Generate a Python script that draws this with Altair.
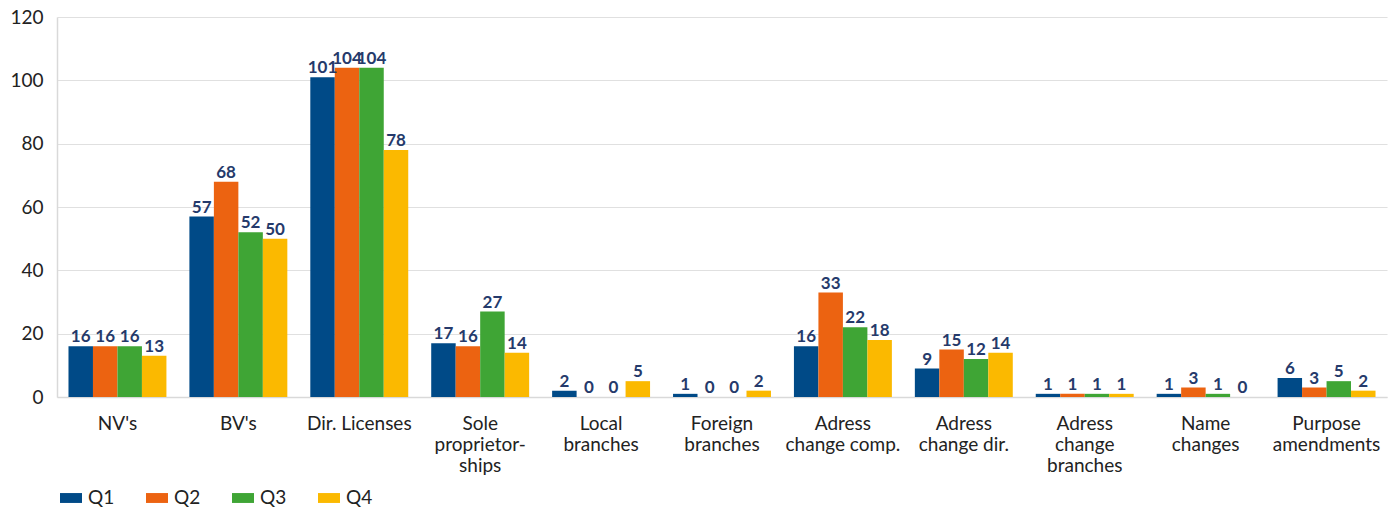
import altair as alt
import pandas as pd

categories = ["NV's", "BV's", "Dir. Licenses", "Sole\nproprietor-\nships", "Local\nbranches",
              "Foreign\nbranches", "Adress\nchange comp.", "Adress\nchange dir.",
              "Adress\nchange\nbranches", "Name\nchanges", "Purpose\namendments"]
quarters = ["Q1", "Q2", "Q3", "Q4"]
q1 = [16, 57, 101, 17, 2, 1, 16, 9, 1, 1, 6]
q2 = [16, 68, 104, 16, 0, 0, 33, 15, 1, 3, 3]
q3 = [16, 52, 104, 27, 0, 0, 22, 12, 1, 1, 5]
q4 = [13, 50, 78, 14, 5, 2, 18, 14, 1, 0, 2]
colors = ["#004a87", "#ec6311", "#3fa535", "#fbb900"]

rows = []
for qi, (q, vals) in enumerate(zip(quarters, [q1, q2, q3, q4])):
    for c, v in zip(categories, vals):
        rows.append({"Category": c, "Quarter": q, "Value": v})
df = pd.DataFrame(rows)

FONT = "Lato"

x = alt.X("Category:N", sort=categories, title=None,
          scale=alt.Scale(paddingInner=0.19, paddingOuter=0.095),
          axis=alt.Axis(labelAngle=0, labelExpr="split(datum.label, '\\n')",
                        labelFont=FONT, labelFontSize=19, labelColor="#222222",
                        labelPadding=17, labelBaseline="top", labelLineHeight=21,
                        ticks=False, domainColor="#d9d9d9", domainWidth=1.5,
                        labelLimit=200))
y = alt.Y("Value:Q", title=None,
          scale=alt.Scale(domain=[0, 120]),
          axis=alt.Axis(values=[0, 20, 40, 60, 80, 100, 120], labelFont=FONT,
                        labelFontSize=19, labelColor="#222222", labelPadding=14,
                        ticks=False, domainColor="#d9d9d9", domainWidth=1.5,
                        gridColor="#e0e0e0", gridWidth=1.2))

color = alt.Color("Quarter:N", sort=quarters,
                  scale=alt.Scale(domain=quarters, range=colors),
                  legend=alt.Legend(title=None, orient="none", direction="horizontal",
                                    legendX=3, legendY=470,
                                    symbolType="M-1,-0.45L1,-0.45L1,0.45L-1,0.45Z",
                                    symbolSize=484, symbolStrokeWidth=0,
                                    labelFont=FONT, labelFontSize=19, labelColor="#222222",
                                    labelOffset=6, columnPadding=31))

base = alt.Chart(df).encode(x=x, xOffset=alt.XOffset("Quarter:N", sort=quarters))

bars = base.mark_bar(opacity=1).encode(y=y, color=color)
labels = base.mark_text(font=FONT, fontSize=17, fontWeight="bold", color="#253a6b",
                        baseline="alphabetic", dy=-4).encode(
    y=alt.Y("Value:Q"), text="Value:Q")

chart = alt.layer(bars, labels).properties(
    width=1330, height=380,
    autosize=alt.AutoSizeParams(type="none"),
    padding={"left": 49, "top": 9, "right": 4, "bottom": 112},
).configure_view(stroke=None).configure_axisY(domain=True)

chart.save("out.html", embed_options={"renderer": "svg", "actions": False})
